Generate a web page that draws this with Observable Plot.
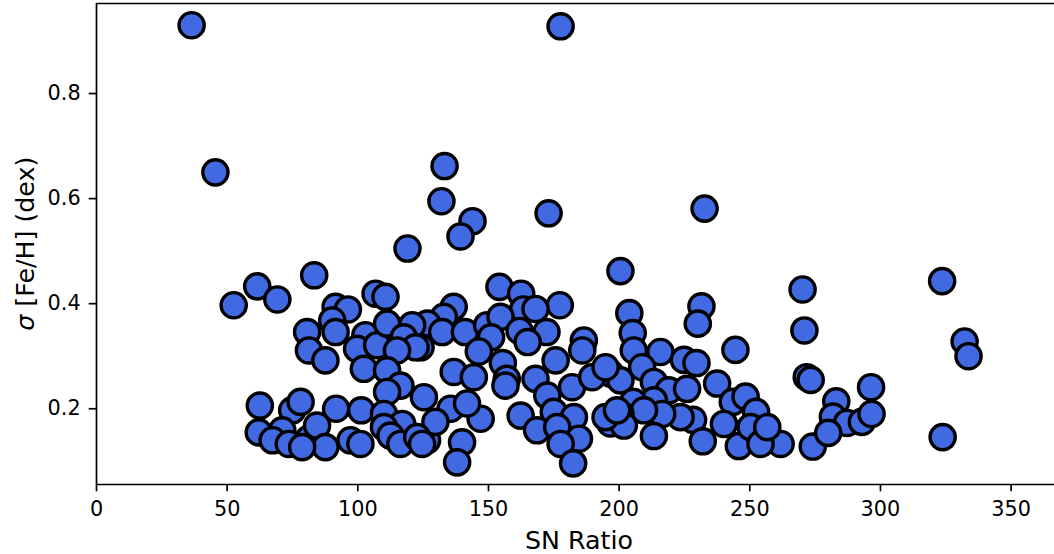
<!DOCTYPE html>
<html>
<head>
<meta charset="utf-8">
<script src="https://cdn.jsdelivr.net/npm/d3@7"></script>
<script src="https://cdn.jsdelivr.net/npm/@observablehq/plot@0.6"></script>
<style>
  html, body { margin: 0; padding: 0; background: #fff; }
  #chart svg { display: block; }
</style>
</head>
<body>
<div id="chart"></div>
<script>
// Signal-to-noise ratio of each spectrum
const snRatio = [
  36.4, 177.6, 45.5, 52.5, 61.5, 69.2, 83.3, 119.0, 133.2, 132.0,
  143.9, 139.3, 173.0, 232.7, 200.5, 323.6, 323.8, 332.2, 333.7, 270.2,
  270.9, 271.8, 273.3, 274.1, 296.4, 283.1, 281.8, 287.2, 292.9, 296.6,
  280.0,
  231.5, 230.1, 203.9, 205.2, 205.6, 244.5, 215.8, 224.8, 229.6, 196.7,
  200.5, 208.8, 213.3, 219.0, 226.0, 213.3, 205.4, 237.5, 243.5, 248.4,
  252.4, 240.1, 228.3, 223.5, 216.5, 209.5, 200.5, 196.7, 201.8, 213.3,
  232.0, 245.8, 250.3, 256.0, 261.8, 254.1, 256.7,
  154.2, 162.5, 177.3, 163.3, 168.0, 136.7, 132.9, 126.6, 132.3, 141.0,
  149.5, 154.6, 151.0, 161.9, 172.2, 165.0, 186.5, 185.9, 146.3, 155.5,
  124.0, 136.7, 144.4, 157.0, 156.5, 175.7, 168.0, 182.0, 189.7, 194.8,
  172.5, 125.3, 135.5, 147.0, 141.8, 162.3, 175.0, 182.7, 194.8, 168.6,
  176.3, 184.6, 177.6, 182.4, 139.9, 138.0, 126.5, 129.7, 199.2,
  106.8, 110.6, 91.5, 96.2, 90.2, 80.6, 91.5, 81.3, 87.6, 102.9,
  99.7, 107.4, 111.2, 120.8, 117.6, 122.1, 115.0, 102.3, 111.2, 116.3,
  111.2, 62.5, 74.9, 78.1, 91.7, 101.3, 110.0, 117.0, 62.1, 71.1,
  67.4, 81.3, 73.6, 84.4, 87.6, 78.7, 97.2, 101.0, 110.0, 112.5,
  116.3, 122.7, 124.6
];

// Scatter of the [Fe/H] estimate for each spectrum (dex)
const sigmaFeH = [
  0.930, 0.928, 0.650, 0.397, 0.433, 0.408, 0.454, 0.505, 0.662, 0.595,
  0.557, 0.528, 0.572, 0.581, 0.462, 0.443, 0.146, 0.328, 0.300, 0.427,
  0.349, 0.260, 0.255, 0.128, 0.241, 0.214, 0.185, 0.173, 0.175, 0.190,
  0.154,
  0.395, 0.362, 0.382, 0.344, 0.311, 0.312, 0.308, 0.293, 0.287, 0.267,
  0.254, 0.279, 0.251, 0.235, 0.238, 0.216, 0.213, 0.248, 0.213, 0.223,
  0.194, 0.171, 0.179, 0.184, 0.190, 0.197, 0.190, 0.172, 0.168, 0.148,
  0.138, 0.129, 0.165, 0.143, 0.133, 0.133, 0.165,
  0.432, 0.419, 0.397, 0.389, 0.390, 0.394, 0.375, 0.362, 0.346, 0.346,
  0.359, 0.375, 0.336, 0.348, 0.346, 0.327, 0.330, 0.311, 0.309, 0.287,
  0.317, 0.270, 0.260, 0.257, 0.244, 0.292, 0.257, 0.241, 0.260, 0.279,
  0.225, 0.222, 0.200, 0.181, 0.210, 0.187, 0.194, 0.184, 0.184, 0.159,
  0.165, 0.143, 0.133, 0.096, 0.136, 0.098, 0.140, 0.175, 0.197,
  0.419, 0.413, 0.394, 0.389, 0.368, 0.346, 0.346, 0.311, 0.292, 0.340,
  0.314, 0.321, 0.362, 0.359, 0.336, 0.317, 0.311, 0.276, 0.273, 0.244,
  0.232, 0.206, 0.197, 0.213, 0.200, 0.197, 0.190, 0.171, 0.155, 0.159,
  0.140, 0.143, 0.133, 0.168, 0.127, 0.127, 0.140, 0.133, 0.165, 0.149,
  0.133, 0.146, 0.133
];

const xTicks = [0, 50, 100, 150, 200, 250, 300, 350];
const yTicks = [0.2, 0.4, 0.6, 0.8];
const xLabel = "SN Ratio";
const yLabelSymbol = "σ";
const yLabelRest = " [Fe/H] (dex)";

const points = snRatio.map((sn, i) => ({sn, sigma: sigmaFeH[i]}));

const xDomain = [0, 366.6];
const yDomain = [0.0558, 0.9714];
const font = "'DejaVu Sans', sans-serif";

const svg = Plot.plot({
  width: 1054,
  height: 554,
  marginLeft: 96,
  marginRight: 0,
  marginTop: 3,
  marginBottom: 70,
  style: {fontFamily: font, fontSize: "20.8px", color: "black", background: "white", overflow: "visible"},
  x: {domain: xDomain},
  y: {domain: yDomain},
  marks: [
    Plot.dot(points, {x: "sn", y: "sigma", r: 12.6, fill: "#4169e1", stroke: "black", strokeWidth: 3.4}),
    Plot.ruleX([xDomain[0]], {stroke: "black", strokeWidth: 1.7}),
    Plot.ruleY([yDomain[0], yDomain[1]], {stroke: "black", strokeWidth: 1.7}),
    Plot.axisX({ticks: xTicks, tickSize: 7.3, tickPadding: 9, strokeWidth: 1.7, label: null, fontSize: 20.8}),
    Plot.axisY({ticks: yTicks, tickSize: 7.3, tickPadding: 8.5, strokeWidth: 1.7, label: null, fontSize: 20.8,
                tickFormat: d3.format(".1f")})
  ]
});

// Axis titles
const s = d3.select(svg);
s.append("text")
  .attr("x", 579).attr("y", 549)
  .attr("text-anchor", "middle")
  .attr("font-family", font).attr("font-size", 25.3).attr("fill", "black")
  .text(xLabel);

const yl = s.append("text")
  .attr("transform", "translate(34,243.7) rotate(-90)")
  .attr("text-anchor", "middle")
  .attr("font-family", font).attr("font-size", 25.3).attr("fill", "black");
yl.append("tspan").attr("font-style", "italic").text(yLabelSymbol);
yl.append("tspan").text(yLabelRest);

document.getElementById("chart").appendChild(svg);
</script>
</body>
</html>
